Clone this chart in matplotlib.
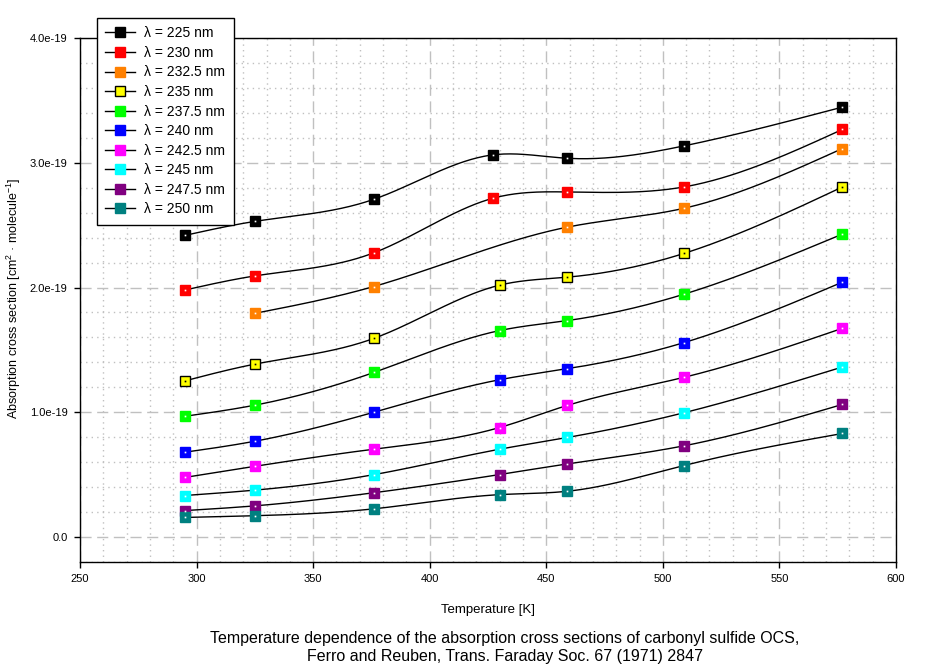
import numpy as np
import matplotlib
matplotlib.use('Agg')
import matplotlib.pyplot as plt
from matplotlib.ticker import MultipleLocator, FuncFormatter
from matplotlib.lines import Line2D

plt.rcParams['font.family'] = ['Liberation Sans', 'DejaVu Sans']
plt.rcParams['mathtext.fontset'] = 'custom'
plt.rcParams['mathtext.rm'] = 'Liberation Sans'
plt.rcParams['mathtext.it'] = 'Liberation Sans'

# data (cross sections in units of 1e-19 cm^2/molecule)
temps_a = [295, 325, 376, 427, 459, 509, 577]   # 225 / 230 nm
temps_b = [325, 376, 459, 509, 577]             # 232.5 nm
temps_c = [295, 325, 376, 430, 459, 509, 577]   # others

wl_225 = [2.418, 2.530, 2.707, 3.063, 3.036, 3.135, 3.446]
wl_230 = [1.980, 2.093, 2.278, 2.715, 2.766, 2.806, 3.267]
wl_2325 = [1.793, 2.008, 2.484, 2.635, 3.114]
wl_235 = [1.252, 1.386, 1.592, 2.019, 2.083, 2.273, 2.806]
wl_2375 = [0.968, 1.057, 1.319, 1.655, 1.735, 1.946, 2.428]
wl_240 = [0.680, 0.768, 1.000, 1.261, 1.349, 1.558, 2.043]
wl_2425 = [0.478, 0.567, 0.704, 0.878, 1.055, 1.280, 1.673]
wl_245 = [0.333, 0.376, 0.500, 0.704, 0.798, 0.996, 1.363]
wl_2475 = [0.212, 0.250, 0.355, 0.501, 0.586, 0.731, 1.063]
wl_250 = [0.157, 0.171, 0.226, 0.340, 0.367, 0.573, 0.830]

labels = ['λ = 225 nm', 'λ = 230 nm', 'λ = 232.5 nm', 'λ = 235 nm', 'λ = 237.5 nm',
          'λ = 240 nm', 'λ = 242.5 nm', 'λ = 245 nm', 'λ = 247.5 nm', 'λ = 250 nm']
colors = ['#000000', '#ff0000', '#ff8000', '#ffff00', '#00ff00',
          '#0000ff', '#ff00ff', '#00ffff', '#800080', '#008080']

series = [(temps_a, wl_225), (temps_a, wl_230), (temps_b, wl_2325),
          (temps_c, wl_235), (temps_c, wl_2375), (temps_c, wl_240),
          (temps_c, wl_2425), (temps_c, wl_245), (temps_c, wl_2475),
          (temps_c, wl_250)]

scale = 1e-19


def natural_spline(x, y, n=300):
    """Natural cubic spline through the points, for drawing the smooth curve."""
    x = np.asarray(x, float)
    y = np.asarray(y, float)
    k = len(x)
    h = np.diff(x)
    A = np.zeros((k, k))
    b = np.zeros(k)
    A[0, 0] = 1
    A[-1, -1] = 1
    for i in range(1, k - 1):
        A[i, i - 1] = h[i - 1]
        A[i, i] = 2 * (h[i - 1] + h[i])
        A[i, i + 1] = h[i]
        b[i] = 6 * ((y[i + 1] - y[i]) / h[i] - (y[i] - y[i - 1]) / h[i - 1])
    m = np.linalg.solve(A, b)
    xs = np.linspace(x[0], x[-1], n)
    idx = np.clip(np.searchsorted(x, xs) - 1, 0, k - 2)
    x0, x1 = x[idx], x[idx + 1]
    hh = x1 - x0
    t0 = x1 - xs
    t1 = xs - x0
    ys = (m[idx] * t0 ** 3 / (6 * hh) + m[idx + 1] * t1 ** 3 / (6 * hh)
          + (y[idx] / hh - m[idx] * hh / 6) * t0
          + (y[idx + 1] / hh - m[idx + 1] * hh / 6) * t1)
    return xs, ys


fig = plt.figure(figsize=(9.36, 6.68), dpi=100)
ax = fig.add_axes([80 / 936, 1 - 562 / 668, (896 - 80) / 936, (562 - 38) / 668])

for (tx, vals), col in zip(series, colors):
    xs, ys = natural_spline(tx, vals)
    ax.plot(xs, ys * scale, color='black', linewidth=1.0, zorder=3)
    edge = 'black' if col == '#ffff00' else col
    ax.plot(tx, np.array(vals) * scale, linestyle='none', marker='s', markersize=7.5,
            markerfacecolor=col, markeredgecolor=edge, markeredgewidth=1.0, zorder=4)
    dot = 'black' if col == '#ffff00' else 'white'
    ax.plot(tx, np.array(vals) * scale, linestyle='none', marker='s', markersize=1.2,
            markerfacecolor=dot, markeredgewidth=0, zorder=5)

ax.set_xlim(250, 600)
ax.set_ylim(-0.2e-19, 4.0e-19)
ax.xaxis.set_major_locator(MultipleLocator(50))
ax.xaxis.set_minor_locator(MultipleLocator(10))
ax.yaxis.set_major_locator(MultipleLocator(1e-19))
ax.yaxis.set_minor_locator(MultipleLocator(0.2e-19))
ax.yaxis.set_major_formatter(FuncFormatter(lambda v, p: '0.0' if abs(v) < 1e-25 else f'{v:.1e}'))
ax.yaxis.get_offset_text().set_visible(False)

ax.grid(True, which='major', color='#c0c0c0', linestyle=(0, (8, 4)), linewidth=1.0)
ax.grid(True, which='minor', color='#c0c0c0', linestyle=(0, (1, 3)), linewidth=1.0)
ax.set_axisbelow(True)
ax.tick_params(which='major', direction='out', length=4, width=1, labelsize=8, pad=5)
ax.tick_params(which='minor', length=0)
for sp in ax.spines.values():
    sp.set_linewidth(1.0)

ax.set_xlabel('Temperature [K]', fontsize=9.5, labelpad=14)
fig.text(14 / 936, 1 - 298 / 668,
         'Absorption cross section [cm$^{2}$ · molecule$^{-1}$]',
         rotation=90, ha='center', va='center', fontsize=9)

handles = []
for lab, col in zip(labels, colors):
    edge = 'black' if col == '#ffff00' else col
    handles.append(Line2D([0], [0], color='black', linewidth=1.0, marker='s', markersize=7.5,
                          markerfacecolor=col, markeredgecolor=edge, label=lab))
leg = fig.legend(handles=handles, loc='upper left', bbox_to_anchor=(97 / 936, 1 - 18 / 668),
                 fontsize=10, frameon=True, fancybox=False, framealpha=1, edgecolor='black',
                 borderaxespad=0, handlelength=2.1, handletextpad=0.7, labelspacing=0.4,
                 borderpad=0.6)
leg.get_frame().set_linewidth(1.0)

fig.text(505 / 936, 1 - 638 / 668,
         'Temperature dependence of the absorption cross sections of carbonyl sulfide OCS,',
         ha='center', va='center', fontsize=11.5)
fig.text(505 / 936, 1 - 656 / 668,
         'Ferro and Reuben, Trans. Faraday Soc. 67 (1971) 2847',
         ha='center', va='center', fontsize=11.5)

fig.savefig('out.png', dpi=100)
